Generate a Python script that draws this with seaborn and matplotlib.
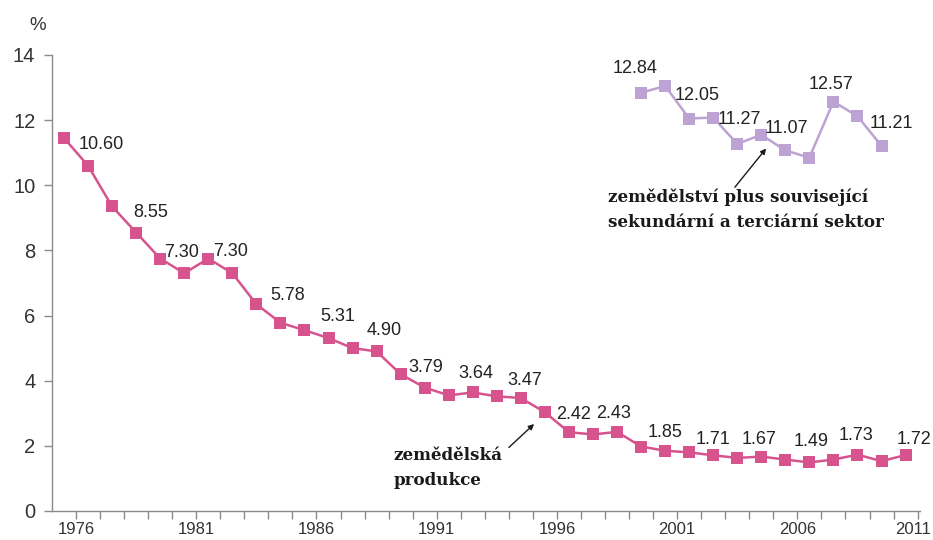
import numpy as np
import pandas as pd
import matplotlib
matplotlib.use("Agg")
import matplotlib.pyplot as plt
import matplotlib.transforms as mtransforms
import seaborn as sns

# ---- data ----
years_prod = list(range(1976, 2012))
prod_values = [11.45, 10.60, 9.35, 8.55, 7.75, 7.30, 7.75, 7.30, 6.35, 5.78,
               5.55, 5.31, 5.00, 4.90, 4.20, 3.79, 3.55, 3.64, 3.52, 3.47,
               3.03, 2.42, 2.35, 2.43, 1.98, 1.85, 1.80, 1.71, 1.63, 1.67,
               1.58, 1.49, 1.58, 1.73, 1.53, 1.72]
years_total = list(range(2000, 2011))
total_values = [12.84, 13.05, 12.05, 12.08, 11.27, 11.55, 11.07, 10.85, 12.57, 12.12, 11.21]
tick_years = [1976, 1981, 1986, 1991, 1996, 2001, 2006, 2011]
series_names = ["zemědělská produkce", "zemědělství plus související sektor"]

# labelled points (every other one)
prod_labelled = years_prod[1::2]
total_labelled = years_total[0::2]

# label offsets (pixels) – styling only
prod_dx = [13, 15, -3, -2, 7, 9, 8, 1, 3, 4, 5, -3, 0, 0, -2, 2, -1, 8]
prod_dy = [21, 20, 21, 22, 27, 22, 21, 20, 19, 17, 18, 18, 18, 16, 17, 21, 19, 15]
total_dx = [-6, 8, 2, 1, -2, 10]
total_dy = [24, 23, 24, 22, 17, 22]

df = pd.DataFrame({
    "rok": years_prod + years_total,
    "hodnota": prod_values + total_values,
    "serie": [series_names[0]] * len(years_prod) + [series_names[1]] * len(years_total),
})

PINK = "#D6538E"
PURPLE = "#BCA3D3"
PT = 0.72  # points per pixel at dpi 100

sns.set_theme(style="white")
plt.rcParams["font.family"] = ["Liberation Sans", "DejaVu Sans"]

fig = plt.figure(figsize=(9.33, 5.4), dpi=100)
ax = fig.add_axes([52 / 933, 1 - 511 / 540, (920 - 52) / 933, (511 - 55) / 540])

sns.lineplot(data=df, x="rok", y="hodnota", hue="serie",
             palette={series_names[0]: PINK, series_names[1]: PURPLE},
             marker="s", markersize=8, markeredgewidth=0, linewidth=1.8,
             legend=False, ax=ax)

ax.set_xlim(1975.5, 2011.6)
ax.set_ylim(0, 14)
ax.set_xlabel("")
ax.set_ylabel("")

for s in ["top", "right"]:
    ax.spines[s].set_visible(False)
for s in ["left", "bottom"]:
    ax.spines[s].set_color("#8a8a8a")
    ax.spines[s].set_linewidth(1.0)

ax.set_yticks(np.arange(0, 15, 2))
ax.tick_params(axis="y", direction="out", length=6, width=1, color="#8a8a8a",
               labelsize=14.5, labelcolor="#333333", pad=6, left=True)
tick_off = 0.5
ax.set_xticks([y + tick_off for y in tick_years])
ax.set_xticklabels([str(y) for y in tick_years])
ax.set_xticks([y + tick_off for y in range(1976, 2011)], minor=True)
ax.tick_params(axis="x", which="both", direction="out", length=6, width=1,
               color="#8a8a8a", labelsize=12, labelcolor="#333333", pad=2, bottom=True)
# keep the last year label inside the figure
last_lbl = ax.get_xticklabels()[-1]
last_lbl.set_transform(last_lbl.get_transform() +
                       mtransforms.ScaledTranslation(-5 / 100, 0, fig.dpi_scale_trans))

# value labels
for yr, dx, dy in zip(prod_labelled, prod_dx, prod_dy):
    v = prod_values[years_prod.index(yr)]
    ax.annotate(f"{v:.2f}", (yr, v), xytext=(dx * PT, dy * PT),
                textcoords="offset points", ha="center", va="center",
                fontsize=13, color="#222222")
for yr, dx, dy in zip(total_labelled, total_dx, total_dy):
    v = total_values[years_total.index(yr)]
    ax.annotate(f"{v:.2f}", (yr, v), xytext=(dx * PT, dy * PT),
                textcoords="offset points", ha="center", va="center",
                fontsize=13, color="#222222")

# series annotations
note_style = dict(ha="left", va="top", fontsize=12.1, fontweight="bold",
                  family="DejaVu Serif", linespacing=1.62, color="#1a1a1a")
arrow_style = dict(arrowstyle="-|>", color="#1a1a1a", lw=1.0,
                   shrinkA=0, shrinkB=0, mutation_scale=8)

ax.text(1989.7, 1.96, "zemědělská\nprodukce", **note_style)
ax.annotate("", xy=(1995.55, 2.67), xytext=(1994.5, 1.95), arrowprops=arrow_style)

ax.text(1998.64, 9.9, "zemědělství plus související\nsekundární a terciární sektor",
        **note_style)
ax.annotate("", xy=(2005.2, 11.13), xytext=(2003.9, 9.94), arrowprops=arrow_style)

fig.text(38 / 933, 1 - 26 / 540, "%", ha="center", va="center",
         fontsize=13.5, color="#333333")

fig.savefig("out.png", dpi=100)
